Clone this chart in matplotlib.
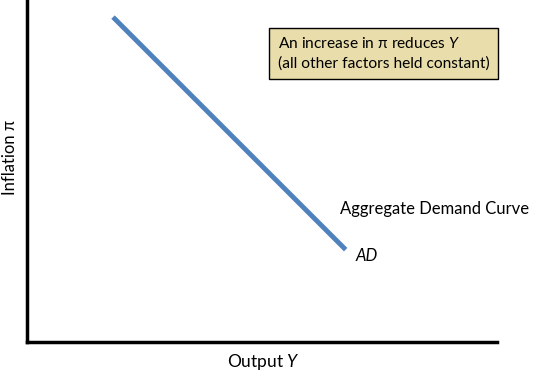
import matplotlib.pyplot as plt

plt.rcParams['font.family'] = ['Lato', 'DejaVu Sans']
plt.rcParams['mathtext.fontset'] = 'custom'
plt.rcParams['mathtext.rm'] = 'Lato'
plt.rcParams['mathtext.it'] = 'Lato:italic'

# AD curve endpoints (output, inflation), axis units 0-100
ad_x = [18.3, 67.8]
ad_y = [95.0, 27.0]

box_text = "An increase in \u03c0 reduces $Y$\n(all other factors held constant)"
curve_label = "Aggregate Demand Curve"
ad_label = "AD"
x_label = "Output $Y$"
y_label = "Inflation \u03c0"

fig = plt.figure(figsize=(5.34, 3.77), dpi=100)
ax = fig.add_axes([27 / 534, 35 / 377, 470 / 534, 342 / 377])

ax.plot(ad_x, ad_y, color='#4F81BD', linewidth=3.5, solid_capstyle='butt')

ax.set_xlim(0, 100)
ax.set_ylim(0, 100)
ax.set_xticks([])
ax.set_yticks([])
ax.spines['top'].set_visible(False)
ax.spines['right'].set_visible(False)
ax.spines['left'].set_linewidth(2.5)
ax.spines['bottom'].set_linewidth(2.5)

ax.text(53.3, 84.4, box_text, fontsize=11.2, va='center', ha='left', linespacing=1.4,
        bbox=dict(boxstyle='square,pad=0.55', facecolor='#E9DDAB', edgecolor='black', linewidth=1))

ax.text(66.6, 38.9, curve_label, fontsize=12, va='center', ha='left')
ax.text(70.0, 25.1, ad_label, fontsize=12, va='center', ha='left', style='italic')

fig.text(263 / 534, 1 - 362 / 377, x_label, fontsize=12.5, ha='center', va='center')
fig.text(10 / 534, 1 - 157 / 377, y_label, fontsize=12, ha='center', va='center', rotation=90)

plt.savefig("out.png", dpi=100)
